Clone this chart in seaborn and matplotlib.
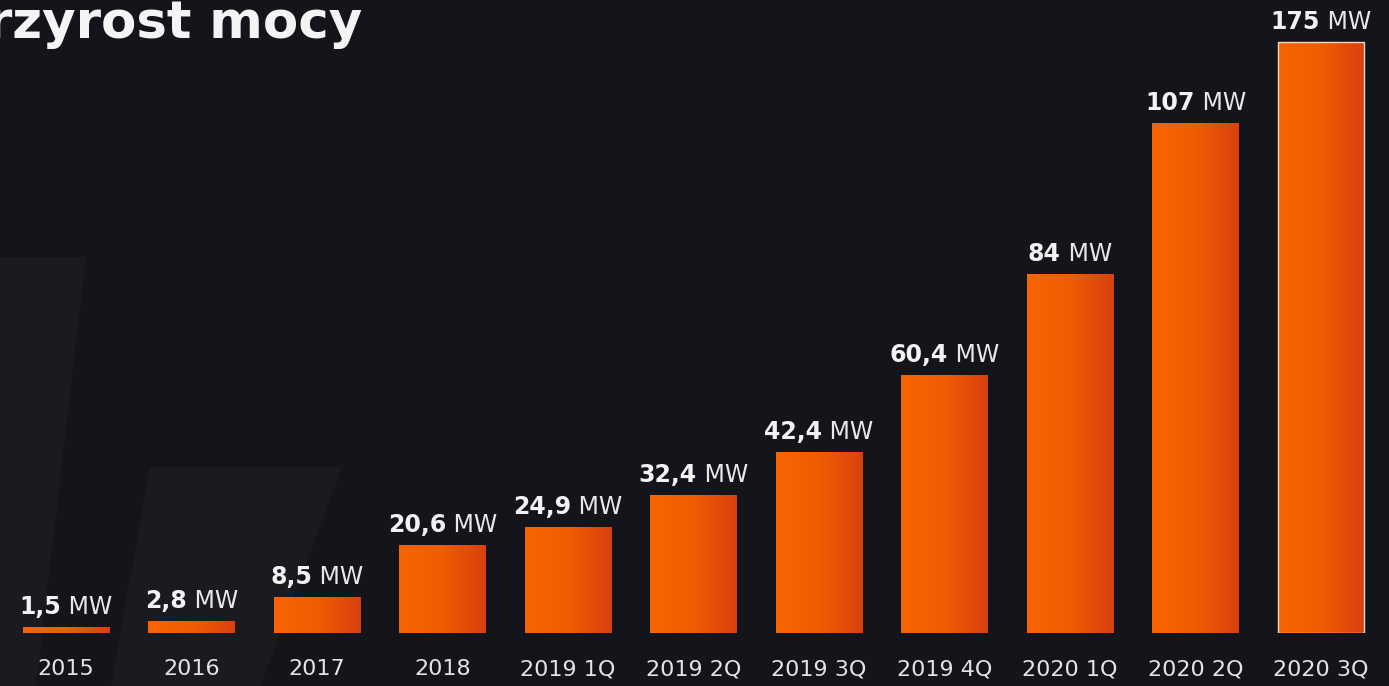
import numpy as np
import pandas as pd
import matplotlib
matplotlib.use("Agg")
import matplotlib.pyplot as plt
from matplotlib.patches import Polygon
from matplotlib.colors import LinearSegmentedColormap
import seaborn as sns

# data
periods = ["2015", "2016", "2017", "2018", "2019 1Q", "2019 2Q", "2019 3Q",
           "2019 4Q", "2020 1Q", "2020 2Q", "2020 3Q"]
label_values = ["1,5", "2,8", "8,5", "20,6", "24,9", "32,4", "42,4",
                "60,4", "84", "107", "175"]
# drawn bar heights (the last two bars are not drawn to scale in the original)
bar_heights = [1.5, 2.8, 8.5, 20.6, 24.9, 32.4, 42.4, 60.4, 84.0, 119.4, 138.4]

df = pd.DataFrame({"period": periods, "height": bar_heights})

BG = "#14151a"
sns.set_theme(style="dark")
plt.rcParams["font.family"] = ["DejaVu Sans"]

fig = plt.figure(figsize=(13.89, 6.86), dpi=100)
fig.patch.set_facecolor(BG)

# faint slanted shapes in the background
W, H = 1389, 686
def fig_poly(pts, color):
    xy = [(x / W, 1 - y / H) for x, y in pts]
    fig.patches.append(Polygon(xy, closed=True, transform=fig.transFigure,
                               facecolor=color, edgecolor="none", zorder=-5))
fig_poly([(0, 257), (86, 257), (36, 686), (0, 686)], "#1a1b20")
fig_poly([(150, 467), (342, 467), (260, 686), (111, 686)], "#1a1b20")

ax = fig.add_axes([0, (686 - 633) / 686, 1, 633 / 686])
ax.set_facecolor("none")
sns.barplot(data=df, x="period", y="height", ax=ax, width=0.69,
            color="#ee5a05", saturation=1)
ax.set_xlim(-0.526, 10.542)
ax.set_ylim(0, 148.2)

# gradient fill on each bar
cmap = LinearSegmentedColormap.from_list("og", ["#f86500", "#f05c02", "#d8410f"])
grad = np.linspace(0, 1, 256).reshape(1, -1)
for i, p in enumerate(ax.patches):
    x0, w, h = p.get_x(), p.get_width(), p.get_height()
    p.set_facecolor("none")
    p.set_edgecolor("none")
    im = ax.imshow(grad, cmap=cmap, aspect="auto", extent=[x0, x0 + w, 0, h],
                   zorder=2, interpolation="bicubic")
    im.set_clip_path(p)
    if i == len(ax.patches) - 1:
        ax.add_patch(plt.Rectangle((x0, 0), w, h, facecolor="none",
                                   edgecolor="#f3d6c4", lw=1.0, zorder=3))

ax.set_xlabel("")
ax.set_ylabel("")
ax.set_yticks([])
ax.tick_params(axis="x", length=0, pad=19, labelsize=16, labelcolor="#e4e4e6")
for s in ax.spines.values():
    s.set_visible(False)
ax.grid(False)

# value labels: bold number + regular unit, centred over each bar
fig.canvas.draw()
renderer = fig.canvas.get_renderer()
for i, (lab, h) in enumerate(zip(label_values, bar_heights)):
    t1 = ax.annotate(lab, xy=(i, h), xytext=(0, 13), textcoords="offset pixels",
                     ha="left", va="baseline", fontsize=17, fontweight="bold",
                     color="#f2f2f2", zorder=4)
    t2 = ax.annotate(" MW", xy=(i, h), xytext=(0, 13), textcoords="offset pixels",
                     ha="left", va="baseline", fontsize=17, color="#e8e8e8",
                     zorder=4)
    w1 = t1.get_window_extent(renderer).width
    w2 = t2.get_window_extent(renderer).width
    start = -(w1 + w2) / 2
    t1.set_position((start, 13))
    t2.set_position((start + w1, 13))

fig.text(362 / W, 1 - 38 / H, "przyrost mocy", ha="right", va="baseline",
         fontsize=37, fontweight="bold", color="#f4f4f4")

fig.savefig("out.png", dpi=100, facecolor=BG)
